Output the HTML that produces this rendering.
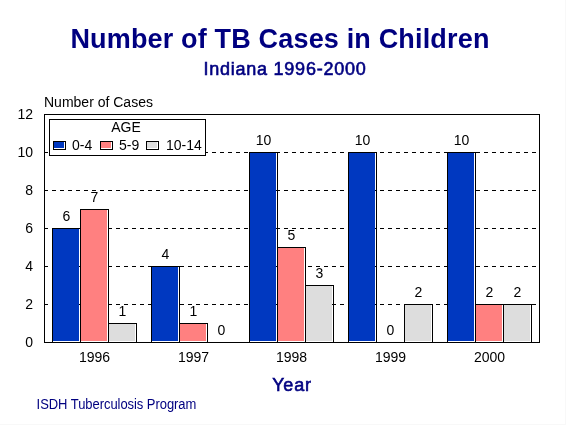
<!DOCTYPE html>
<html><head><meta charset="utf-8"><style>
html,body{margin:0;padding:0;background:#fff;}
body{width:566px;height:425px;overflow:hidden;position:relative;}
svg{position:absolute;left:0;top:0;display:block;will-change:transform;}
text{font-family:"Liberation Sans", sans-serif;}
</style></head><body>
<svg width="566" height="425" viewBox="0 0 566 425" shape-rendering="crispEdges">
<rect x="0" y="0" width="566" height="425" fill="#fff"/>
<line x1="44" y1="304.5" x2="539" y2="304.5" stroke="#000" stroke-width="1" stroke-dasharray="4 4"/>
<line x1="44" y1="266.5" x2="539" y2="266.5" stroke="#000" stroke-width="1" stroke-dasharray="4 4"/>
<line x1="44" y1="228.5" x2="539" y2="228.5" stroke="#000" stroke-width="1" stroke-dasharray="4 4"/>
<line x1="44" y1="190.5" x2="539" y2="190.5" stroke="#000" stroke-width="1" stroke-dasharray="4 4"/>
<line x1="44" y1="152.5" x2="539" y2="152.5" stroke="#000" stroke-width="1" stroke-dasharray="4 4"/>
<rect x="44.5" y="114.5" width="495" height="228" fill="none" stroke="#000" stroke-width="1"/>
<rect x="52.5" y="228.5" width="28" height="114" fill="none" stroke="#000" stroke-width="1"/>
<rect x="53" y="229" width="26" height="112" fill="#0038C0"/>
<text x="66.5" y="221" text-anchor="middle" font-size="14" fill="#000">6</text>
<rect x="80.5" y="209.5" width="28" height="133" fill="none" stroke="#000" stroke-width="1"/>
<rect x="81" y="210" width="26" height="131" fill="#FF8080"/>
<text x="94.5" y="202" text-anchor="middle" font-size="14" fill="#000">7</text>
<rect x="108.5" y="323.5" width="28" height="19" fill="none" stroke="#000" stroke-width="1"/>
<rect x="109" y="324" width="26" height="17" fill="#DDDDDD"/>
<text x="122.5" y="316" text-anchor="middle" font-size="14" fill="#000">1</text>
<text x="94.5" y="362" text-anchor="middle" font-size="14">1996</text>
<rect x="151.5" y="266.5" width="28" height="76" fill="none" stroke="#000" stroke-width="1"/>
<rect x="152" y="267" width="26" height="74" fill="#0038C0"/>
<text x="165.5" y="259" text-anchor="middle" font-size="14" fill="#000">4</text>
<rect x="179.5" y="323.5" width="28" height="19" fill="none" stroke="#000" stroke-width="1"/>
<rect x="180" y="324" width="26" height="17" fill="#FF8080"/>
<text x="193.5" y="316" text-anchor="middle" font-size="14" fill="#000">1</text>
<text x="221.5" y="335" text-anchor="middle" font-size="14" fill="#000">0</text>
<text x="193.5" y="362" text-anchor="middle" font-size="14">1997</text>
<rect x="249.5" y="152.5" width="28" height="190" fill="none" stroke="#000" stroke-width="1"/>
<rect x="250" y="153" width="26" height="188" fill="#0038C0"/>
<text x="263.5" y="145" text-anchor="middle" font-size="14" fill="#000">10</text>
<rect x="277.5" y="247.5" width="28" height="95" fill="none" stroke="#000" stroke-width="1"/>
<rect x="278" y="248" width="26" height="93" fill="#FF8080"/>
<text x="291.5" y="240" text-anchor="middle" font-size="14" fill="#000">5</text>
<rect x="305.5" y="285.5" width="28" height="57" fill="none" stroke="#000" stroke-width="1"/>
<rect x="306" y="286" width="26" height="55" fill="#DDDDDD"/>
<text x="319.5" y="278" text-anchor="middle" font-size="14" fill="#000">3</text>
<text x="291.5" y="362" text-anchor="middle" font-size="14">1998</text>
<rect x="348.5" y="152.5" width="28" height="190" fill="none" stroke="#000" stroke-width="1"/>
<rect x="349" y="153" width="26" height="188" fill="#0038C0"/>
<text x="362.5" y="145" text-anchor="middle" font-size="14" fill="#000">10</text>
<text x="390.5" y="335" text-anchor="middle" font-size="14" fill="#000">0</text>
<rect x="404.5" y="304.5" width="28" height="38" fill="none" stroke="#000" stroke-width="1"/>
<rect x="405" y="305" width="26" height="36" fill="#DDDDDD"/>
<text x="418.5" y="297" text-anchor="middle" font-size="14" fill="#000">2</text>
<text x="390.5" y="362" text-anchor="middle" font-size="14">1999</text>
<rect x="447.5" y="152.5" width="28" height="190" fill="none" stroke="#000" stroke-width="1"/>
<rect x="448" y="153" width="26" height="188" fill="#0038C0"/>
<text x="461.5" y="145" text-anchor="middle" font-size="14" fill="#000">10</text>
<rect x="475.5" y="304.5" width="28" height="38" fill="none" stroke="#000" stroke-width="1"/>
<rect x="476" y="305" width="26" height="36" fill="#FF8080"/>
<text x="489.5" y="297" text-anchor="middle" font-size="14" fill="#000">2</text>
<rect x="503.5" y="304.5" width="28" height="38" fill="none" stroke="#000" stroke-width="1"/>
<rect x="504" y="305" width="26" height="36" fill="#DDDDDD"/>
<text x="517.5" y="297" text-anchor="middle" font-size="14" fill="#000">2</text>
<text x="489.5" y="362" text-anchor="middle" font-size="14">2000</text>
<text x="33" y="347" text-anchor="end" font-size="14">0</text>
<text x="33" y="309" text-anchor="end" font-size="14">2</text>
<text x="33" y="271" text-anchor="end" font-size="14">4</text>
<text x="33" y="233" text-anchor="end" font-size="14">6</text>
<text x="33" y="195" text-anchor="end" font-size="14">8</text>
<text x="33" y="157" text-anchor="end" font-size="14">10</text>
<text x="33" y="119" text-anchor="end" font-size="14">12</text>
<rect x="49.5" y="119.5" width="156" height="36" fill="#fff" stroke="#000" stroke-width="1"/>
<text x="126" y="132" text-anchor="middle" font-size="14">AGE</text>
<rect x="53" y="141" width="13" height="9" fill="#000"/>
<rect x="54" y="142" width="11" height="7" fill="#fff"/>
<rect x="54" y="142" width="10" height="6" fill="#0038C0"/>
<text x="72" y="150" font-size="14">0-4</text>
<rect x="100" y="141" width="13" height="9" fill="#000"/>
<rect x="101" y="142" width="11" height="7" fill="#fff"/>
<rect x="101" y="142" width="10" height="6" fill="#FF8080"/>
<text x="119" y="150" font-size="14">5-9</text>
<rect x="146" y="141" width="13" height="9" fill="#000"/>
<rect x="147" y="142" width="11" height="7" fill="#fff"/>
<rect x="147" y="142" width="10" height="6" fill="#DDDDDD"/>
<text x="166" y="150" font-size="14">10-14</text>
<text x="44" y="107" font-size="14">Number of Cases</text>
<text x="280" y="48" text-anchor="middle" font-size="27" font-weight="bold" fill="#000080" letter-spacing="0.17">Number of TB Cases in Children</text>
<text x="285" y="75" text-anchor="middle" font-size="18" letter-spacing="0.75" fill="#000080" stroke="#000080" stroke-width="0.6">Indiana 1996-2000</text>
<text x="292" y="391" text-anchor="middle" font-size="18" letter-spacing="0.8" fill="#000080" stroke="#000080" stroke-width="0.6">Year</text>
<text transform="translate(36.6,409) scale(1,1.08)" font-size="13" letter-spacing="-0.05" fill="#000080">ISDH Tuberculosis Program</text>
<rect x="565" y="0" width="1" height="425" fill="#F8F8F8"/>
<rect x="0" y="424" width="566" height="1" fill="#F8F8F8"/>
</svg>
</body></html>
